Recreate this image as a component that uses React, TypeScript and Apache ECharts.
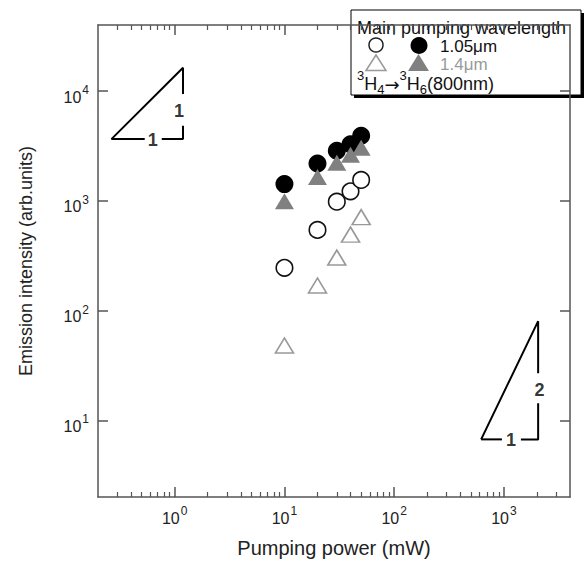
import React, { useEffect, useRef } from 'react';
import * as echarts from 'echarts';

// ---------- data ----------
const power = [10, 20, 30, 40, 50]; // mW
const filledCircleValues = [1420, 2190, 2860, 3280, 3910];
const filledTriangleValues = [990, 1650, 2220, 2630, 3040];
const openCircleValues = [245, 543, 982, 1220, 1550];
const openTriangleValues = [48, 169, 304, 492, 710];

const xMajorTicks = [1, 10, 100, 1000];
const xMinorTicks = [
  0.3, 0.4, 0.5, 0.6, 0.7, 0.8, 0.9,
  2, 3, 4, 5, 6, 7, 8, 9,
  20, 30, 40, 50, 60, 70, 80, 90,
  200, 300, 400, 500, 600, 700, 800, 900,
  2000, 3000,
];
const yMajorTicks = [10, 100, 1000, 10000];

// slope guide triangles (data coordinates), split where the labels sit
const guideSlope1 = [
  [[0.265, 3650], [1.19, 16300], [1.19, 9420]],
  [[1.19, 4820], [1.19, 3650], [0.762, 3650]],
  [[0.533, 3650], [0.265, 3650]],
];
const guideSlope2 = [
  [[620, 6.7], [2050, 80], [2050, 26.8]],
  [[2050, 14.3], [2050, 6.7], [1428, 6.7]],
  [[959, 6.7], [620, 6.7]],
];
const guideLabels = [
  { name: '1', value: [0.631, 3550] },
  { name: '1', value: [1.094, 6590] },
  { name: '1', value: [1158, 6.55] },
  { name: '2', value: [2112, 18.8] },
];

const FONT = "'Liberation Sans', Arial, Helvetica, sans-serif";
const AXIS_COLOR = '#555';

const pairs = (ys: number[]) => power.map((x, i) => [x, ys[i]]);

export default function App() {
  const ref = useRef<HTMLDivElement>(null);
  useEffect(() => {
    if (!ref.current) return;
    const chart = echarts.init(ref.current, undefined, { renderer: 'svg' });

    const tickLabelRich = {
      b: { fontSize: 16, lineHeight: 16, padding: [6, 0, 0, 0], verticalAlign: 'top', color: '#222', fontFamily: FONT },
      s: { fontSize: 12, lineHeight: 12, padding: [1, 0, 0, 1], verticalAlign: 'top', color: '#222', fontFamily: FONT },
    };
    const powFmt = (v: number) => `{b|10}{s|${Math.round(Math.log10(v))}}`;

    const logX = (extra: any) => ({
      type: 'log',
      logBase: 10,
      min: 0.2,
      max: 4000,
      gridIndex: 0,
      splitLine: { show: false },
      axisLine: { show: true, onZero: false, lineStyle: { color: AXIS_COLOR, width: 1.5 } },
      ...extra,
    });
    const logY = (extra: any) => ({
      type: 'log',
      logBase: 10,
      min: 2,
      max: 40000,
      gridIndex: 0,
      splitLine: { show: false },
      axisLine: { show: true, onZero: false, lineStyle: { color: AXIS_COLOR, width: 1.5 } },
      ...extra,
    });

    const lineSeries = (segs: number[][][]) =>
      segs.map((seg) => ({
        type: 'line',
        xAxisIndex: 0,
        yAxisIndex: 0,
        data: seg,
        symbol: 'none',
        silent: true,
        lineStyle: { color: '#000', width: 2 },
        z: 1,
      }));

    const option: any = {
      animation: false,
      backgroundColor: '#fff',
      textStyle: { fontFamily: FONT },
      grid: { left: 98, right: 15, top: 25, bottom: 66, containLabel: false },
      xAxis: [
        logX({
          position: 'bottom',
          name: 'Pumping power (mW)',
          nameLocation: 'middle',
          nameGap: 41,
          nameTextStyle: { fontSize: 20, color: '#222', fontFamily: FONT },
          axisTick: { show: true, inside: true, length: 10, customValues: xMajorTicks, lineStyle: { color: AXIS_COLOR, width: 1.5 } },
          axisLabel: { show: true, margin: 7, customValues: xMajorTicks, formatter: powFmt, rich: tickLabelRich },
        }),
        logX({
          position: 'bottom',
          axisLine: { show: false },
          axisTick: { show: true, inside: true, length: 5, customValues: xMinorTicks, lineStyle: { color: AXIS_COLOR, width: 1.2 } },
          axisLabel: { show: false },
        }),
        logX({
          position: 'top',
          axisTick: { show: true, inside: true, length: 10, customValues: xMajorTicks, lineStyle: { color: AXIS_COLOR, width: 1.5 } },
          axisLabel: { show: false },
        }),
        logX({
          position: 'top',
          axisLine: { show: false },
          axisTick: { show: true, inside: true, length: 5, customValues: xMinorTicks, lineStyle: { color: AXIS_COLOR, width: 1.2 } },
          axisLabel: { show: false },
        }),
      ],
      yAxis: [
        logY({
          position: 'left',
          name: 'Emission intensity (arb.units)',
          nameLocation: 'middle',
          nameGap: 63,
          nameTextStyle: { fontSize: 18, color: '#222', fontFamily: FONT },
          axisTick: { show: true, inside: true, length: 10, customValues: yMajorTicks, lineStyle: { color: AXIS_COLOR, width: 1.5 } },
          axisLabel: { show: true, margin: 9, customValues: yMajorTicks, formatter: powFmt, rich: tickLabelRich },
        }),
        logY({
          position: 'right',
          axisTick: { show: true, inside: true, length: 10, customValues: yMajorTicks, lineStyle: { color: AXIS_COLOR, width: 1.5 } },
          axisLabel: { show: false },
        }),
      ],
      series: [
        ...lineSeries(guideSlope1),
        ...lineSeries(guideSlope2),
        {
          type: 'scatter',
          data: guideLabels,
          symbolSize: 1,
          silent: true,
          itemStyle: { color: 'rgba(0,0,0,0)' },
          label: {
            show: true,
            position: 'inside',
            formatter: '{b}',
            color: '#000',
            fontSize: 18,
            fontWeight: 'bold',
            fontFamily: FONT,
            backgroundColor: '#fff',
            padding: [0, 2, 0, 2],
          },
          z: 2,
        },
        {
          name: '800nm 1.4μm',
          type: 'scatter',
          data: pairs(openTriangleValues),
          symbol: 'triangle',
          symbolSize: [18, 15],
          itemStyle: { color: '#fff', borderColor: '#999', borderWidth: 1.6, opacity: 1 },
          z: 3,
        },
        {
          name: '800nm 1.05μm',
          type: 'scatter',
          data: pairs(openCircleValues),
          symbol: 'circle',
          symbolSize: 16.5,
          itemStyle: { color: '#fff', borderColor: '#111', borderWidth: 1.6, opacity: 1 },
          z: 3,
        },
        {
          name: '1.05μm',
          type: 'scatter',
          data: pairs(filledCircleValues),
          symbol: 'circle',
          symbolSize: 18,
          itemStyle: { color: '#000', opacity: 1 },
          z: 4,
        },
        {
          name: '1.4μm',
          type: 'scatter',
          data: pairs(filledTriangleValues),
          symbol: 'triangle',
          symbolSize: [19, 16],
          itemStyle: { color: '#808080', opacity: 1 },
          z: 5,
        },
      ],
      graphic: [
        {
          type: 'group',
          z: 100,
          children: [
            { type: 'rect', shape: { x: 354, y: 13, width: 230, height: 85 }, style: { fill: '#000' } },
            { type: 'rect', shape: { x: 351, y: 10, width: 230, height: 85 }, style: { fill: '#fff', stroke: '#000', lineWidth: 1 } },
            {
              type: 'text', x: 357, y: 28,
              style: { text: 'Main pumping wavelength', fontSize: 18, lineHeight: 18, fontFamily: FONT, fill: '#111', verticalAlign: 'middle', align: 'left' },
            },
            { type: 'circle', shape: { cx: 376, cy: 45, r: 7 }, style: { fill: '#fff', stroke: '#222', lineWidth: 1.5 } },
            { type: 'circle', shape: { cx: 419, cy: 45.5, r: 8.5 }, style: { fill: '#000' } },
            {
              type: 'text', x: 440, y: 46,
              style: { text: '1.05μm', fontSize: 17, lineHeight: 16, fontFamily: FONT, fill: '#111', verticalAlign: 'middle', align: 'left' },
            },
            { type: 'polygon', shape: { points: [[376, 55], [386, 70.5], [366, 70.5]] }, style: { fill: '#fff', stroke: '#999', lineWidth: 1.5 } },
            { type: 'polygon', shape: { points: [[418.5, 54], [429, 71], [408, 71]] }, style: { fill: '#808080' } },
            {
              type: 'text', x: 440, y: 64.5,
              style: { text: '1.4μm', fontSize: 17, lineHeight: 16, fontFamily: FONT, fill: '#999', verticalAlign: 'middle', align: 'left' },
            },
            {
              type: 'text', x: 357, y: 66,
              style: {
                text: '{s|3}{n|H}{b|4}{a|→}{s|3}{n|H}{b|6}{n|(800nm)}',
                fontFamily: FONT, fill: '#111', align: 'left', verticalAlign: 'top',
                rich: {
                  n: { fontSize: 18, lineHeight: 18, padding: [9, 0, 0, 0], verticalAlign: 'top', fontFamily: FONT, fill: '#111' },
                  a: { fontSize: 18, lineHeight: 18, padding: [9, 0, 0, 0], verticalAlign: 'top', fontFamily: "'DejaVu Sans', sans-serif", fill: '#111' },
                  s: { fontSize: 13, lineHeight: 13, padding: [2.5, 0, 0, 0], verticalAlign: 'top', fontFamily: FONT, fill: '#111' },
                  b: { fontSize: 13, lineHeight: 13, padding: [16.8, 0, 0, 0], verticalAlign: 'top', fontFamily: FONT, fill: '#111' },
                },
              },
            },
          ],
        },
      ],
    };

    chart.setOption(option);
    return () => chart.dispose();
  }, []);

  return <div ref={ref} style={{ width: 585, height: 563, position: 'absolute', left: 0, top: 0 }} />;
}
